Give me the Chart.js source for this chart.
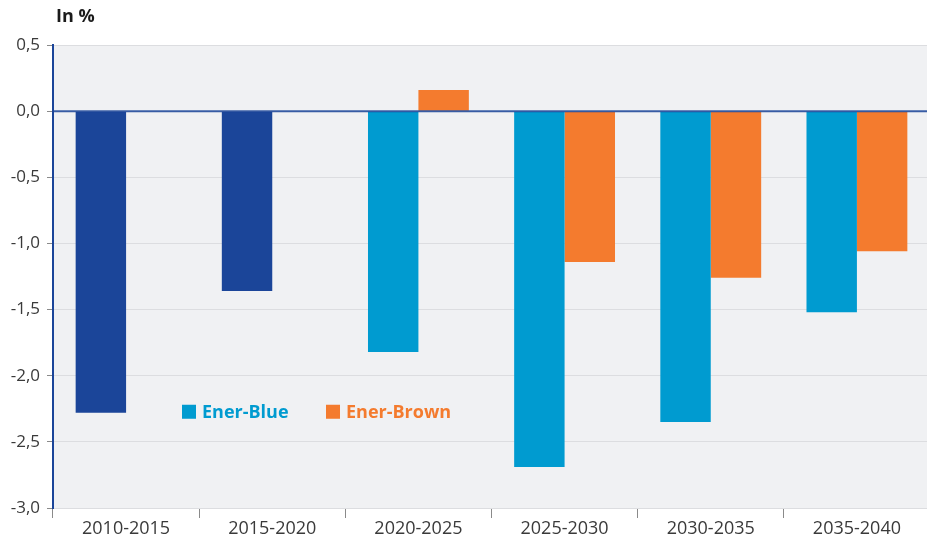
<!DOCTYPE html>
<html>
<head>
<meta charset="utf-8">
<script src="https://cdn.jsdelivr.net/npm/chart.js@4/dist/chart.umd.min.js"></script>
<style>
    html, body { margin: 0; padding: 0; background: #ffffff; overflow: hidden; }
    #clip { width: 927px; height: 538px; overflow: hidden; }
    #wrap { width: 930px; height: 538px; }
</style>
</head>
<body>
<div id="clip"><div id="wrap"><canvas id="chart"></canvas></div></div>
<script>
// Daten
const periods = ["2010-2015", "2015-2020", "2020-2025", "2025-2030", "2030-2035", "2035-2040"];
const blueValues = [-2.28, -1.36, -1.82, -2.69, -2.35, -1.52];
const brownValues = [null, null, 0.16, -1.14, -1.26, -1.06];
const seriesNames = ["Ener-Blue", "Ener-Brown"];
const yMin = -3.0;
const yMax = 0.5;
const yStep = 0.5;

const darkBlue = "#1b4599";
const lightBlue = "#009bd0";
const orange = "#f47b2e";
const fontFamily = "'Open Sans', sans-serif";

// history bars (first two) are dark blue
const blueColours = blueValues.map((v, i) => i < 2 ? darkBlue : lightBlue);

// Hintergrund der Zeichenfläche
const plotBackground = {
    id: "plotBackground",
    beforeDraw(chart) {
        const { ctx, chartArea } = chart;
        ctx.save();
        ctx.fillStyle = "#f0f1f3";
        ctx.fillRect(chartArea.left, chartArea.top, chartArea.right - chartArea.left, chartArea.bottom - chartArea.top);
        ctx.restore();
    }
};

// Nulllinie, Titel und Legende
const overlay = {
    id: "overlay",
    afterDatasetsDraw(chart) {
        const { ctx, chartArea, scales } = chart;
        const y0 = scales.y.getPixelForValue(0);
        ctx.save();
        ctx.strokeStyle = "rgba(27, 69, 153, 0.85)";
        ctx.lineWidth = 2;
        ctx.beginPath();
        ctx.moveTo(chartArea.left, y0);
        ctx.lineTo(chartArea.right, y0);
        ctx.stroke();

        ctx.fillStyle = "#1a1a1a";
        ctx.font = "bold 18px " + fontFamily;
        ctx.textBaseline = "middle";
        ctx.textAlign = "left";
        ctx.fillText("In %", chartArea.left + 3, 17);

        const ly = scales.y.getPixelForValue(-2.28) - 1;
        const items = [
            { name: seriesNames[0], colour: lightBlue, x: chartArea.left + 129 },
            { name: seriesNames[1], colour: orange, x: chartArea.left + 273 }
        ];
        ctx.font = "bold 18px " + fontFamily;
        items.forEach(item => {
            ctx.fillStyle = item.colour;
            ctx.fillRect(item.x, ly - 7, 14, 14);
            ctx.fillText(item.name, item.x + 20, ly + 1);
        });
        ctx.restore();
    }
};

new Chart(document.getElementById("chart"), {
    type: "bar",
    data: {
        labels: periods,
        datasets: [
            {
                label: seriesNames[0],
                data: blueValues,
                backgroundColor: blueColours,
                categoryPercentage: 0.69,
                barPercentage: 1.0
            },
            {
                label: seriesNames[1],
                data: brownValues,
                backgroundColor: orange,
                categoryPercentage: 0.69,
                barPercentage: 1.0
            }
        ]
    },
    options: {
        responsive: true,
        maintainAspectRatio: false,
        animation: false,
        layout: { padding: { top: 45, left: 0, right: 0, bottom: 0 } },
        plugins: {
            legend: { display: false },
            tooltip: { enabled: false },
            title: { display: false }
        },
        scales: {
            x: {
                grid: {
                    offset: true,
                    drawOnChartArea: false,
                    tickLength: 10,
                    tickColor: "#8a8a8a",
                    tickWidth: 1
                },
                border: { display: false },
                ticks: {
                    color: "#3a3a3a",
                    font: { family: fontFamily, size: 18 },
                    padding: 0,
                    maxRotation: 0
                },
                afterFit(scale) { scale.height = 30; }
            },
            y: {
                min: yMin,
                max: yMax,
                grid: {
                    color: "#dcdde0",
                    lineWidth: 1,
                    tickLength: 6,
                    tickColor: "#8a8a8a"
                },
                border: { display: true, color: darkBlue, width: 2 },
                ticks: {
                    stepSize: yStep,
                    color: "#3a3a3a",
                    font: { family: fontFamily, size: 17 },
                    padding: 7,
                    callback: v => v.toFixed(1).replace(".", ",")
                },
                afterFit(scale) { scale.width = 53; }
            }
        }
    },
    plugins: [plotBackground, overlay]
});
</script>
</body>
</html>
